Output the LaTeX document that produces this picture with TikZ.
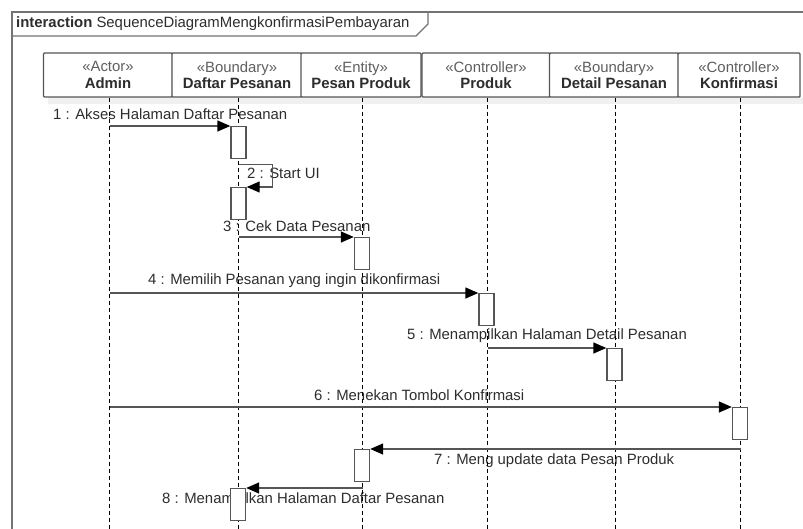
\documentclass[tikz,border=0pt]{standalone}
\usepackage{fontspec}
\setmainfont{Liberation Sans}
\usetikzlibrary{arrows.meta,positioning}
\definecolor{cLine}{RGB}{85,85,85}
\definecolor{cText}{RGB}{45,45,45}
\definecolor{cStereo}{RGB}{95,95,95}
\definecolor{cFrame}{RGB}{115,115,115}
\definecolor{cShade}{RGB}{240,240,240}

\begin{document}
\begin{tikzpicture}[x=1pt,y=-1pt,
    font=\fontsize{14.9}{16.5}\selectfont,
    head/.style={draw=cLine,line width=1.4pt,fill=white,minimum height=44pt,inner sep=0pt,align=center,text=cText,rounded corners=1pt},
    act/.style={draw=cLine,line width=1.4pt,fill=white,minimum width=15pt,minimum height=32pt,inner sep=0pt,anchor=north},
    lifeline/.style={black,line width=0.9pt,dash pattern=on 4pt off 3pt},
    msg/.style={cLine,line width=1.4pt,-{Triangle[length=13pt,width=11pt,color=black]}},
    lbl/.style={anchor=west,inner sep=0pt,text=cText}]
  \useasboundingbox (0,0) rectangle (803,528);
  \draw[cFrame,line width=1.6pt] (12,540) |- (810,12);
  \draw[cFrame,line width=1.2pt] (12,36) -- (416,36) -- (428,24) -- (428,12);
  \node[anchor=west,inner sep=0pt,text=cText] (ttl) at (16,24) {\textbf{interaction} SequenceDiagramMengkonfirmasiPembayaran};
  \fill[cShade] (48,97) rectangle (806,104);
  \foreach \nm/\xc/\bw/\st/\lname in {adm/108/129/Actor/Admin, dft/237/130/Boundary/Daftar Pesanan,
      pes/361/120/Entity/Pesan Produk, prd/486/128/Controller/Produk,
      det/614/129/Boundary/Detail Pesanan, kon/739/122/Controller/Konfirmasi} {
    \node[head,minimum width=\bw pt] (\nm) at (\xc,75) {{\color{cStereo}«\st»}\\\textbf{\lname}};
    \coordinate (\nm-top) at ([xshift=1.5pt]\nm.south);
    \coordinate (\nm-bot) at (\xc+1.5,540);
  }
  \node[lbl] (l1) at (53,114) {1 : Akses Halaman Daftar Pesanan};
  \node[lbl] (l2) at (247,173) {2 : Start UI};
  \node[lbl] (l3) at (223,226) {3 : Cek Data Pesanan};
  \node[lbl] (l4) at (148,281) {4 : Memilih Pesanan yang ingin dikonfirmasi};
  \node[lbl] (l5) at (407,336) {5 : Menampilkan Halaman Detail Pesanan};
  \node[lbl] (l6) at (314,395) {6 : Menekan Tombol Konfirmasi};
  \node[lbl] (l7) at (434,461) {7 : Meng update data Pesan Produk};
  \node[lbl] (l8) at (162,500) {8 : Menampilkan Halaman Daftar Pesanan};
  \foreach \nm in {adm,dft,pes,prd,det,kon}
    \draw[lifeline] (\nm-top) -- (\nm-bot);
  \foreach \n/\x/\y in {a1/238.5/126, a2/238.5/187, a3/362/237, a4/486.5/293,
      a5/614.5/348, a6/740/407, a7/362/449, a8/238/488}
    \node[act] (\n) at (\x,\y) {};
  \draw[msg] (adm-top |- a1.north) -- (a1.north west);
  \draw[msg] ([yshift=-5pt]a1.south) -- ++(34,0) |- (a2.north east);
  \draw[msg] (dft-top |- a3.north) -- (a3.north west);
  \draw[msg] (adm-top |- a4.north) -- (a4.north west);
  \draw[msg] (prd-top |- a5.north) -- (a5.north west);
  \draw[msg] (adm-top |- a6.north) -- (a6.north west);
  \draw[msg] (kon-top |- a7.north) -- (a7.north east);
  \draw[msg] (pes-top |- a8.north) -- (a8.north east);
\end{tikzpicture}
\end{document}
